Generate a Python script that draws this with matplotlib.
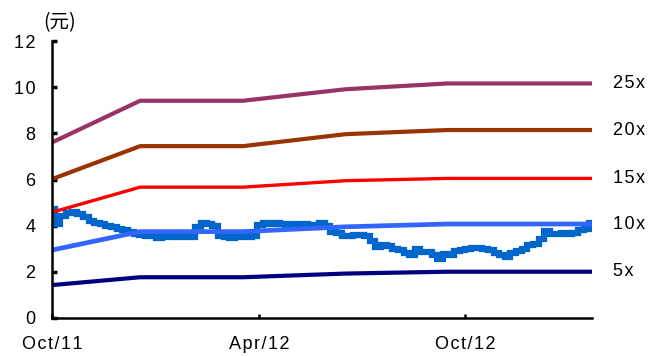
#!/usr/bin/env python3
import numpy as np
import pandas as pd
import matplotlib
matplotlib.use("Agg")
from matplotlib import pyplot as plt

plt.rcParams['font.family'] = ['Liberation Sans', 'DejaVu Sans']

# PE band breakpoints (EPS updates) and the band levels at each of them
band_dates = ["2011-10-01", "2011-12-18", "2012-03-18", "2012-06-17", "2012-09-15", "2013-01-21"]
pe_25x = [7.61, 9.42, 9.42, 9.92, 10.17, 10.17]
pe_20x = [6.02, 7.45, 7.45, 7.97, 8.15, 8.15]
pe_15x = [4.58, 5.67, 5.67, 5.95, 6.05, 6.05]
pe_10x = [2.94, 3.74, 3.74, 3.95, 4.07, 4.07]
pe_5x = [1.42, 1.76, 1.76, 1.92, 2.00, 2.00]
band_labels = ["25x", "20x", "15x", "10x", "5x"]

# share price, sampled about every 5 days
price = [4.72, 4.05, 4.42, 4.55, 4.58, 4.52, 4.38, 4.22, 4.12, 4.06,
         3.98, 3.92, 3.86, 3.80, 3.74, 3.62, 3.58, 3.55, 3.60, 3.48,
         3.55, 3.50, 3.55, 3.52, 3.55, 3.50, 3.95, 4.10, 4.05, 3.98,
         3.55, 3.50, 3.48, 3.52, 3.55, 3.50, 3.55, 4.02, 4.10, 4.08,
         4.12, 4.05, 3.95, 4.05, 4.08, 4.05, 4.02, 3.95, 4.12, 3.98,
         3.72, 3.70, 3.56, 3.56, 3.60, 3.60, 3.55, 3.35, 3.08, 3.16,
         3.12, 3.00, 2.95, 2.80, 2.72, 3.00, 2.87, 2.85, 2.72, 2.55,
         2.75, 2.72, 2.90, 2.95, 3.00, 3.04, 3.04, 3.00, 2.94, 2.80,
         2.72, 2.62, 2.80, 2.90, 3.00, 3.16, 3.20, 3.40, 3.78, 3.65,
         3.62, 3.66, 3.62, 3.66, 3.80, 3.85, 4.10]

y_ticks = [0, 2, 4, 6, 8, 10, 12]
x_tick_dates = ["2011-10-01", "2012-04-01", "2012-10-01"]
x_tick_labels = ["Oct/11", "Apr/12", "Oct/12"]

start = pd.Timestamp("2011-10-01")
end = pd.Timestamp("2013-01-21")
price_dates = pd.date_range(start, end, periods=len(price))
bd = pd.to_datetime(band_dates)


def spaced(s):
    # loose letter spacing, like the spreadsheet rendering
    return "\u200a".join(s)


fig = plt.figure(figsize=(6.51, 3.56), dpi=100)
ax = fig.add_axes([0.0799, 0.1073, 0.8295, 0.7767])

ax.plot(price_dates, price, c='#0066CC', lw=4.5, drawstyle='steps-mid',
        solid_joinstyle='miter', zorder=2)

bands = [pe_25x, pe_20x, pe_15x, pe_10x, pe_5x]
colors = ['#993366', '#993300', '#FF0000', '#3366FF', '#000080']
widths = [3.0, 3.0, 2.4, 3.4, 3.0]
for vals, c, w, lab in zip(bands, colors, widths, band_labels):
    ax.plot(bd, vals, c=c, lw=w, zorder=3, solid_capstyle='butt')
    ax.annotate(spaced(lab), xy=(bd[-1], vals[-1]), xytext=(21, 0),
                textcoords='offset pixels', ha='left', va='center',
                fontsize=13, annotation_clip=False)

ax.set_xlim(start, end)
ax.set_ylim(0, 12)
ax.set_yticks(y_ticks)
ax.set_yticklabels([spaced(str(v)) for v in y_ticks])
ax.set_xticks(pd.to_datetime(x_tick_dates))
ax.set_xticklabels([spaced(s) for s in x_tick_labels])

for side in ['top', 'right']:
    ax.spines[side].set_visible(False)
for side in ['left', 'bottom']:
    ax.spines[side].set_linewidth(1.8)
    ax.spines[side].set_zorder(4)

ax.tick_params(axis='y', direction='in', length=3.5, width=2.5, pad=12, labelsize=13)
ax.tick_params(axis='x', direction='in', length=3, width=1.8, pad=13, labelsize=13)

fig.text(60 / 651, 1 - 23 / 356, "(元)", ha='center', va='center', fontsize=14,
         family=['Noto Sans CJK SC', 'DejaVu Sans'])

fig.savefig("out.png", dpi=100)
